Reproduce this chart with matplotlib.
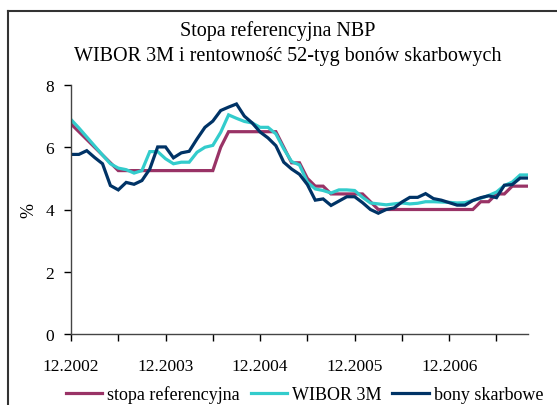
import matplotlib
matplotlib.use("Agg")
import matplotlib.pyplot as plt
from matplotlib.lines import Line2D
import numpy as np

# Monthly data, 12.2002 .. 10.2007
stopa = [6.75, 6.5, 6.25, 6.0, 5.75, 5.5, 5.25, 5.25, 5.25, 5.25, 5.25, 5.25,
         5.25, 5.25, 5.25, 5.25, 5.25, 5.25, 5.25, 6.0, 6.5, 6.5, 6.5, 6.5,
         6.5, 6.5, 6.5, 6.0, 5.5, 5.5, 5.0, 4.75, 4.75, 4.5, 4.5, 4.5,
         4.5, 4.5, 4.25, 4.0, 4.0, 4.0, 4.0, 4.0, 4.0, 4.0, 4.0, 4.0,
         4.0, 4.0, 4.0, 4.0, 4.25, 4.25, 4.5, 4.5, 4.75, 4.75, 4.75]
wibor = [6.89, 6.62, 6.33, 6.04, 5.75, 5.47, 5.33, 5.28, 5.17, 5.25, 5.86, 5.86,
         5.63, 5.47, 5.52, 5.52, 5.84, 6.0, 6.06, 6.48, 7.04, 6.93, 6.83, 6.78,
         6.64, 6.64, 6.43, 5.95, 5.54, 5.43, 4.88, 4.66, 4.61, 4.53, 4.63, 4.63,
         4.61, 4.39, 4.21, 4.18, 4.15, 4.18, 4.21, 4.18, 4.2, 4.25, 4.25, 4.24,
         4.23, 4.21, 4.22, 4.29, 4.36, 4.45, 4.56, 4.77, 4.88, 5.11, 5.11]
bony = [5.77, 5.77, 5.89, 5.67, 5.47, 4.77, 4.63, 4.87, 4.81, 4.93, 5.3, 6.01,
        6.01, 5.66, 5.82, 5.87, 6.27, 6.64, 6.84, 7.18, 7.29, 7.39, 7.0, 6.78,
        6.49, 6.3, 6.05, 5.52, 5.3, 5.13, 4.8, 4.3, 4.34, 4.13, 4.27, 4.41,
        4.41, 4.22, 4.0, 3.88, 4.0, 4.05, 4.24, 4.39, 4.39, 4.51, 4.35, 4.3,
        4.22, 4.14, 4.14, 4.29, 4.38, 4.44, 4.38, 4.78, 4.8, 5.01, 5.01]
tick_labels = ["12.2002", "12.2003", "12.2004", "12.2005", "12.2006"]
series_names = ["stopa referencyjna", "WIBOR 3M", "bony skarbowe"]
colors = ["#993366", "#33CCCC", "#003366"]

plt.rcParams['font.family'] = ['Liberation Serif', 'DejaVu Serif']

W, H = 557, 406
fig = plt.figure(figsize=(W/100, H/100), dpi=100)
ax = fig.add_axes([71/W, 1-335/H, (528-71)/W, (335-86)/H])

x = np.arange(len(stopa))
for vals, name, c in zip([stopa, wibor, bony], series_names, colors):
    ax.plot(x, vals, color=c, lw=2.3, label=name, solid_joinstyle='miter')

ax.set_xlim(0, len(stopa)-1)
ax.set_ylim(0, 8)
ax.set_yticks([0, 2, 4, 6, 8])
ticks = list(range(0, len(stopa), 6))
labels = []
for t in ticks:
    labels.append(tick_labels[t//12] if t % 12 == 0 and t//12 < len(tick_labels) else "")
ax.set_xticks(ticks)
ax.set_xticklabels(labels)
ax.tick_params(axis='both', direction='out', length=5, width=1, colors='black',
               labelsize=12.5)
ax.tick_params(axis='x', pad=12)
ax.tick_params(axis='y', pad=7)
for s in ['top', 'right']:
    ax.spines[s].set_visible(False)
for s in ['left', 'bottom']:
    ax.spines[s].set_color('#444444')
    ax.spines[s].set_linewidth(1)
ax.set_ylabel("%", fontsize=13, labelpad=6)

fig.text(278/W, 1-31/H, "Stopa referencyjna NBP", ha='center', va='center', fontsize=14.5)
fig.text(288/W, 1-56/H, "WIBOR 3M i rentowność 52-tyg bonów skarbowych",
         ha='center', va='center', fontsize=14.5)

fig.legend(loc='center', bbox_to_anchor=(304.5/W, 1-395/H), ncol=3, frameon=False,
           fontsize=13, handlelength=2.0, handletextpad=0.3, columnspacing=0.6,
           borderaxespad=0, borderpad=0)

# outer frame (cropped at right and bottom)
fig.add_artist(Line2D([8/W, 1.0], [1-12/H, 1-12/H], transform=fig.transFigure,
                      color='#333333', lw=1.5))
fig.add_artist(Line2D([8/W, 8/W], [1-12/H, 0.0], transform=fig.transFigure,
                      color='#333333', lw=1.5))

fig.savefig("out.png", dpi=100)
